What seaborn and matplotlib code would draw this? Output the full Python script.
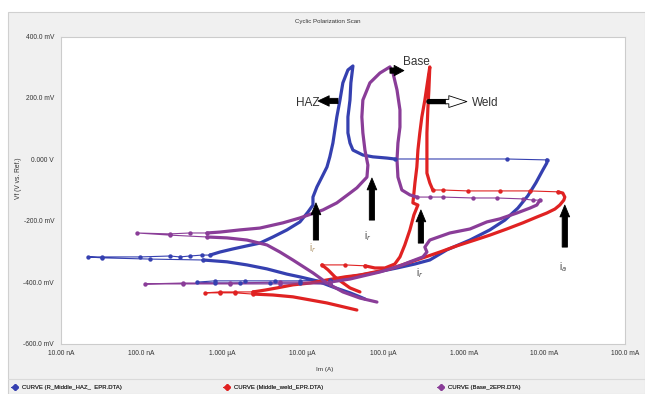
import matplotlib
matplotlib.use("Agg")
import matplotlib.pyplot as plt
from matplotlib.lines import Line2D
from matplotlib.patches import Rectangle
from matplotlib.ticker import LogLocator, MultipleLocator, NullFormatter
import pandas as pd
import seaborn as sns

# ---------------------------------------------------------------------------
# Cyclic (double loop EPR) polarization scans: current in A, potential in mV
# vs. reference, listed in scan order.  *_COARSE holds index ranges where the
# potentiostat logged only a few points (fast current jumps).
# ---------------------------------------------------------------------------
HAZ_CURRENT = [2.17e-5, 9.23e-6, 3.92e-6, 1.66e-6, 8.15e-7, 4.86e-7, 8.15e-7, 1.92e-6, 4.52e-6, 9.23e-6,
               2.17e-5, 3.86e-5, 7.43e-5, 1.48e-4, 2.47e-4, 3.78e-4, 6.15e-4, 1.19e-3, 2.10e-3, 3.23e-3,
               4.68e-3, 6.22e-3, 7.82e-3, 9.55e-3, 1.07e-2, 1.07e-2, 3.41e-3, 1.39e-4, 1.11e-4, 7.43e-5,
               5.58e-5, 4.20e-5, 3.86e-5, 3.64e-5, 3.64e-5, 3.86e-5, 3.96e-5, 4.20e-5, 3.64e-5, 3.15e-5,
               2.90e-5, 2.65e-5, 2.37e-5, 2.17e-5, 2.00e-5, 1.73e-5, 1.50e-5, 1.34e-5, 1.34e-5, 1.16e-5,
               9.23e-6, 6.37e-6, 4.27e-6, 2.94e-6, 2.03e-6, 1.36e-6, 9.40e-7, 7.06e-7, 5.61e-7, 3.98e-7,
               2.99e-7, 2.25e-7, 9.55e-8, 3.23e-8, 2.16e-8, 3.23e-8, 1.27e-7, 5.78e-7, 8.15e-7, 1.15e-6,
               2.03e-6, 3.60e-6, 6.37e-6, 9.23e-6, 1.50e-5, 2.37e-5, 3.86e-5, 5.13e-5, 5.92e-5]
HAZ_POTENTIAL = [-406, -403, -403, -403, -403, -400, -396, -396, -396, -396,
                 -393, -383, -370, -354, -341, -328, -295, -263, -230, -198,
                 -159, -119, -77, -35, -12, -2, 1, 1, 4, 8,
                 14, 30, 53, 86, 138, 193, 249, 304, 291, 249,
                 193, 138, 53, 8, -25, -58, -90, -123, -149, -172,
                 -204, -230, -253, -273, -282, -292, -302, -312, -312, -315,
                 -318, -315, -318, -318, -318, -321, -325, -328, -331, -334,
                 -344, -357, -374, -383, -396, -416, -435, -448, -455]
HAZ_COARSE = [(0, 10), (25, 27), (57, 67)]

WELD_CURRENT = [4.70e-5, 2.90e-5, 2.00e-5, 1.23e-5, 7.55e-6, 4.27e-6, 2.41e-6, 1.44e-6, 9.40e-7, 6.12e-7,
                9.40e-7, 1.44e-6, 2.41e-6, 3.40e-6, 4.79e-6, 7.55e-6, 1.23e-5, 2.00e-5, 3.34e-5, 5.13e-5,
                7.87e-5, 1.21e-4, 1.85e-4, 3.10e-4, 5.04e-4, 8.18e-4, 1.37e-3, 2.10e-3, 3.41e-3, 5.40e-3,
                8.05e-3, 1.07e-2, 1.35e-2, 1.55e-2, 1.74e-2, 1.79e-2, 1.69e-2, 1.47e-2, 6.59e-3, 2.80e-3,
                1.12e-3, 5.48e-4, 4.12e-4, 3.78e-4, 3.48e-4, 3.48e-4, 3.48e-4, 3.48e-4, 3.57e-4, 3.68e-4,
                3.78e-4, 3.57e-4, 3.28e-4, 3.01e-4, 2.84e-4, 2.69e-4, 2.61e-4, 2.47e-4, 2.40e-4, 2.33e-4,
                2.69e-4, 2.40e-4, 2.14e-4, 1.85e-4, 1.61e-4, 1.39e-4, 1.05e-4, 7.87e-5, 5.92e-5, 3.34e-5,
                1.73e-5, 2.06e-5, 2.51e-5, 3.06e-5, 3.86e-5, 5.13e-5]
WELD_POTENTIAL = [-491, -478, -468, -458, -448, -442, -439, -435, -435, -435,
                  -432, -432, -432, -426, -419, -409, -403, -393, -383, -377,
                  -367, -357, -341, -321, -302, -282, -263, -247, -227, -207,
                  -188, -175, -162, -149, -133, -123, -110, -106, -103, -103,
                  -103, -100, -100, -77, -45, -2, 30, 86, 161, 226,
                  301, 258, 193, 138, 86, 30, -25, -77, -110, -142,
                  -149, -181, -230, -279, -318, -341, -354, -354, -347, -344,
                  -344, -360, -383, -400, -419, -432]
WELD_COARSE = [(6, 12), (37, 42), (68, 70)]

BASE_CURRENT = [2.17e-5, 5.21e-6, 1.25e-6, 3.27e-7, 1.10e-7, 3.27e-7, 1.25e-6, 5.21e-6, 2.17e-5, 3.86e-5,
                9.08e-5, 1.61e-4, 2.14e-4, 3.10e-4, 3.48e-4, 3.28e-4, 3.78e-4, 6.70e-4, 1.19e-3, 1.93e-3,
                2.80e-3, 4.55e-3, 6.59e-3, 8.05e-3, 8.77e-3, 7.18e-3, 5.40e-3, 2.56e-3, 1.29e-3, 5.48e-4,
                3.78e-4, 2.61e-4, 2.14e-4, 1.70e-4, 1.52e-4, 1.48e-4, 1.52e-4, 1.61e-4, 1.61e-4, 1.48e-4,
                1.32e-4, 1.21e-4, 9.08e-5, 6.82e-5, 5.58e-5, 5.42e-5, 5.58e-5, 5.92e-5, 6.44e-5, 6.27e-5,
                4.70e-5, 3.86e-5, 2.65e-5, 1.78e-5, 9.23e-6, 5.68e-6, 2.94e-6, 1.66e-6, 9.40e-7, 6.47e-7,
                3.98e-7, 2.25e-7, 8.77e-8, 2.25e-7, 6.47e-7, 1.15e-6, 2.03e-6, 3.60e-6, 5.21e-6, 7.55e-6,
                1.34e-5, 2.00e-5, 3.15e-5, 5.13e-5, 8.34e-5]
BASE_POTENTIAL = [-406, -406, -406, -406, -406, -403, -403, -400, -400, -390,
                  -367, -347, -334, -318, -302, -286, -263, -240, -227, -204,
                  -194, -175, -159, -149, -133, -133, -129, -126, -126, -123,
                  -123, -123, -116, -100, -58, -2, 53, 105, 161, 226,
                  281, 301, 281, 249, 193, 138, 86, 30, -19, -58,
                  -93, -110, -142, -165, -191, -207, -224, -230, -237, -240,
                  -240, -243, -240, -247, -253, -256, -263, -279, -302, -328,
                  -370, -403, -432, -452, -465]
BASE_COARSE = [(0, 8), (24, 31), (59, 64)]

CURVE_NAMES = ["CURVE (R_Middle_HAZ_  EPR.DTA)", "CURVE (Middle_weld_EPR.DTA)", "CURVE (Base_2EPR.DTA)"]
CURVE_COLORS = ["#3540b0", "#e02222", "#8a3d98"]

X_TICKS = [1e-8, 1e-7, 1e-6, 1e-5, 1e-4, 1e-3, 1e-2, 1e-1]
X_TICK_LABELS = ["10.00 nA", "100.0 nA", "1.000 µA", "10.00 µA", "100.0 µA", "1.000 mA", "10.00 mA", "100.0 mA"]
Y_TICKS = [-600, -400, -200, 0, 200, 400]
Y_TICK_LABELS = ["-600.0 mV", "-400.0 mV", "-200.0 mV", "0.000 V", "200.0 mV", "400.0 mV"]


def scan_pieces(name, current, potential, coarse):
    """Split one scan into runs drawn thick (dense sampling) or thin (coarse)."""
    n = len(current)
    cuts = sorted({0, n - 1} | {a for a, _ in coarse} | {b for _, b in coarse})
    rows = []
    for k, (a, b) in enumerate(zip(cuts[:-1], cuts[1:])):
        kind = "coarse" if (a, b) in coarse else "dense"
        for j in range(a, b + 1):
            rows.append({"curve": name, "piece": f"{name}#{k}", "kind": kind,
                         "current": current[j], "potential": potential[j]})
    return rows


scans = [(HAZ_CURRENT, HAZ_POTENTIAL, HAZ_COARSE),
         (WELD_CURRENT, WELD_POTENTIAL, WELD_COARSE),
         (BASE_CURRENT, BASE_POTENTIAL, BASE_COARSE)]

sns.set_style("white")
plt.rcParams["font.family"] = ["Liberation Sans", "DejaVu Sans"]

W, H = 645, 394
fig = plt.figure(figsize=(W / 100, H / 100), dpi=100)
fig.patch.set_facecolor("white")
fig.patches.append(Rectangle((8 / W, 0), 1 - 8 / W, 1 - 12 / H, transform=fig.transFigure,
                             fc="#f0f0f0", ec="#d0d0d0", lw=0.8, zorder=-10))
fig.add_artist(Line2D([8 / W, 1], [1 - 379 / H] * 2, transform=fig.transFigure, color="#dadada", lw=0.8))

ax = fig.add_axes([61 / W, 1 - 343.5 / H, 564 / W, 307 / H])
ax.set_facecolor("white")
ax.set_xscale("log")

for name, color, (cur, pot, coarse) in zip(CURVE_NAMES, CURVE_COLORS, scans):
    df = pd.DataFrame(scan_pieces(name, cur, pot, coarse))
    sns.lineplot(data=df, x="current", y="potential", units="piece", estimator=None, sort=False,
                 size="kind", sizes={"dense": 2.3, "coarse": 0.8}, color=color, legend=False, ax=ax)
    sns.scatterplot(data=df[df["kind"] == "coarse"], x="current", y="potential", color=color,
                    s=10, linewidth=0, legend=False, ax=ax, zorder=3)

ax.set_xlim(1e-8, 1e-1)
ax.set_ylim(-600, 400)
ax.set_xticks(X_TICKS)
ax.set_xticklabels(X_TICK_LABELS)
ax.xaxis.set_minor_locator(LogLocator(base=10, subs=range(2, 10)))
ax.xaxis.set_minor_formatter(NullFormatter())
ax.set_yticks(Y_TICKS)
ax.set_yticklabels(Y_TICK_LABELS)
ax.yaxis.set_minor_locator(MultipleLocator(50))
ax.tick_params(axis="both", which="both", direction="out", length=2.5, width=0.6,
               color="#aaaaaa", labelsize=4.8, labelcolor="#333333", pad=2.5)
ax.set_xlabel("")
ax.set_ylabel("")
for sp in ax.spines.values():
    sp.set_color("#cccccc")
    sp.set_linewidth(0.8)

fig.text(328 / W, 1 - 22 / H, "Cyclic Polarization Scan", ha="center", va="center", fontsize=4.4, color="#333333")
fig.text(325 / W, 1 - 370 / H, "Im (A)", ha="center", va="center", fontsize=4.6, color="#333333")
fig.text(18 / W, 1 - 178 / H, "Vf (V vs. Ref.)", ha="center", va="center", rotation=90, fontsize=4.8,
         color="#333333")

# Arrows marking the three materials and the activation / reactivation peaks
def block_arrow(tail, head, fc="black", scale=10, hl=0.9, hw=0.9, tw=0.4):
    ax.annotate("", xy=head, xytext=tail,
                arrowprops=dict(arrowstyle=f"simple,head_length={hl},head_width={hw},tail_width={tw}",
                                fc=fc, ec="black", lw=0.6, shrinkA=0, shrinkB=0, mutation_scale=scale))

label_kw = dict(fontsize=8.5, color="#333333", va="center")
block_arrow((2.74e-5, 190), (1.55e-5, 190), hl=0.8, hw=0.75, tw=0.38)
ax.text(1.16e-5, 185, "HAZ", ha="center", **label_kw)
block_arrow((1.21e-4, 289), (1.80e-4, 289), hl=0.7, hw=0.75, tw=0.38)
ax.text(2.54e-4, 317, "Base", ha="center", **label_kw)
ax.annotate("", xy=(6.0e-4, 188), xytext=(3.68e-4, 188),
            arrowprops=dict(arrowstyle="-", lw=3.8, color="black", shrinkA=0, shrinkB=0))
block_arrow((5.9e-4, 188), (1.09e-3, 188), fc="white", hl=1.3, hw=0.85, tw=0.32)
ax.text(1.26e-3, 183, "Weld", ha="left", **label_kw)

peak_kw = dict(fontsize=7, color="#444444", ha="center", va="center")
block_arrow((1.46e-5, -263), (1.46e-5, -142), hl=0.85, hw=0.7, tw=0.38)
ax.text(1.34e-5, -289, r"i$_r$", **dict(peak_kw, color="#b0956a"))
block_arrow((7.23e-5, -198), (7.23e-5, -61), hl=0.85, hw=0.7, tw=0.38)
ax.text(6.44e-5, -250, r"i$_r$", **peak_kw)
block_arrow((2.93e-4, -273), (2.93e-4, -165), hl=0.85, hw=0.7, tw=0.38)
ax.text(2.84e-4, -370, r"i$_r$", **peak_kw)
block_arrow((1.79e-2, -286), (1.79e-2, -149), hl=0.85, hw=0.7, tw=0.38)
ax.text(1.72e-2, -351, r"i$_a$", **peak_kw)

# One legend entry per scan file along the bottom strip
legend_x = [11 / W, 223 / W, 437 / W]
for name, color, x0 in zip(CURVE_NAMES, CURVE_COLORS, legend_x):
    handle = Line2D([0], [0], color=color, lw=0.8, marker="D", markersize=3)
    leg = fig.legend([handle], [name], loc="center left", bbox_to_anchor=(x0, 1 - 387 / H),
                     frameon=False, fontsize=4.3, handlelength=1.2, handletextpad=0.6,
                     borderpad=0, borderaxespad=0, labelcolor="#333333")
    fig.add_artist(leg)

fig.savefig("out.png", dpi=100, facecolor=fig.get_facecolor())
